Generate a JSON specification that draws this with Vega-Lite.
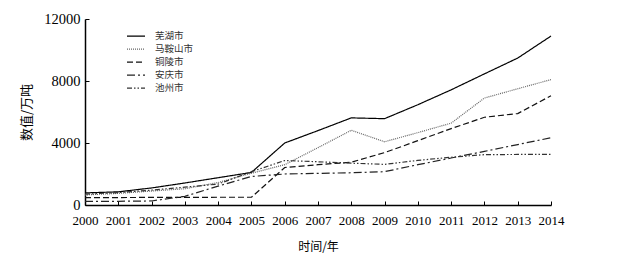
{
  "$schema": "https://vega.github.io/schema/vega-lite/v6.json",
  "width": 466,
  "height": 186,
  "autosize": {"type": "none"},
  "padding": {"left": 85, "top": 19, "right": 74, "bottom": 66},
  "background": "white",
  "config": {
    "view": {"stroke": null},
    "axis": {"grid": false, "domainColor": "#000", "tickColor": "#000", "labelColor": "#000", "titleColor": "#000", "labelFont": "Liberation Serif", "titleFont": "Noto Sans CJK SC", "titleFontWeight": "normal"},
    "legend": {"orient": "none", "legendX": 41, "legendY": 11, "title": null, "symbolType": "stroke", "symbolSize": 324, "symbolStrokeWidth": 1.2, "labelFont": "Noto Sans CJK SC", "labelFontSize": 9.5, "labelColor": "#333", "labelOffset": 9, "clipHeight": 12.2, "rowPadding": 0, "padding": 0}
  },
  "data": {
    "values": [
      {"city": "芜湖市", "year": 2000, "value": 780},
      {"city": "芜湖市", "year": 2001, "value": 850},
      {"city": "芜湖市", "year": 2002, "value": 1100},
      {"city": "芜湖市", "year": 2003, "value": 1420},
      {"city": "芜湖市", "year": 2004, "value": 1760},
      {"city": "芜湖市", "year": 2005, "value": 2100},
      {"city": "芜湖市", "year": 2006, "value": 4000},
      {"city": "芜湖市", "year": 2007, "value": 4800},
      {"city": "芜湖市", "year": 2008, "value": 5620},
      {"city": "芜湖市", "year": 2009, "value": 5570},
      {"city": "芜湖市", "year": 2010, "value": 6470},
      {"city": "芜湖市", "year": 2011, "value": 7430},
      {"city": "芜湖市", "year": 2012, "value": 8460},
      {"city": "芜湖市", "year": 2013, "value": 9480},
      {"city": "芜湖市", "year": 2014, "value": 10900},
      {"city": "马鞍山市", "year": 2000, "value": 650},
      {"city": "马鞍山市", "year": 2001, "value": 750},
      {"city": "马鞍山市", "year": 2002, "value": 900},
      {"city": "马鞍山市", "year": 2003, "value": 1050},
      {"city": "马鞍山市", "year": 2004, "value": 1450},
      {"city": "马鞍山市", "year": 2005, "value": 2050},
      {"city": "马鞍山市", "year": 2006, "value": 2600},
      {"city": "马鞍山市", "year": 2007, "value": 3700},
      {"city": "马鞍山市", "year": 2008, "value": 4820},
      {"city": "马鞍山市", "year": 2009, "value": 4080},
      {"city": "马鞍山市", "year": 2010, "value": 4670},
      {"city": "马鞍山市", "year": 2011, "value": 5280},
      {"city": "马鞍山市", "year": 2012, "value": 6900},
      {"city": "马鞍山市", "year": 2013, "value": 7500},
      {"city": "马鞍山市", "year": 2014, "value": 8090},
      {"city": "铜陵市", "year": 2000, "value": 480},
      {"city": "铜陵市", "year": 2001, "value": 480},
      {"city": "铜陵市", "year": 2002, "value": 490},
      {"city": "铜陵市", "year": 2003, "value": 490},
      {"city": "铜陵市", "year": 2004, "value": 500},
      {"city": "铜陵市", "year": 2005, "value": 500},
      {"city": "铜陵市", "year": 2006, "value": 2420},
      {"city": "铜陵市", "year": 2007, "value": 2600},
      {"city": "铜陵市", "year": 2008, "value": 2760},
      {"city": "铜陵市", "year": 2009, "value": 3380},
      {"city": "铜陵市", "year": 2010, "value": 4150},
      {"city": "铜陵市", "year": 2011, "value": 4930},
      {"city": "铜陵市", "year": 2012, "value": 5660},
      {"city": "铜陵市", "year": 2013, "value": 5900},
      {"city": "铜陵市", "year": 2014, "value": 7050},
      {"city": "安庆市", "year": 2000, "value": 240},
      {"city": "安庆市", "year": 2001, "value": 240},
      {"city": "安庆市", "year": 2002, "value": 260},
      {"city": "安庆市", "year": 2003, "value": 560},
      {"city": "安庆市", "year": 2004, "value": 1220},
      {"city": "安庆市", "year": 2005, "value": 1840},
      {"city": "安庆市", "year": 2006, "value": 2000},
      {"city": "安庆市", "year": 2007, "value": 2040},
      {"city": "安庆市", "year": 2008, "value": 2080},
      {"city": "安庆市", "year": 2009, "value": 2150},
      {"city": "安庆市", "year": 2010, "value": 2600},
      {"city": "安庆市", "year": 2011, "value": 3030},
      {"city": "安庆市", "year": 2012, "value": 3460},
      {"city": "安庆市", "year": 2013, "value": 3900},
      {"city": "安庆市", "year": 2014, "value": 4340},
      {"city": "池州市", "year": 2000, "value": 700},
      {"city": "池州市", "year": 2001, "value": 800},
      {"city": "池州市", "year": 2002, "value": 960},
      {"city": "池州市", "year": 2003, "value": 1150},
      {"city": "池州市", "year": 2004, "value": 1350},
      {"city": "池州市", "year": 2005, "value": 2150},
      {"city": "池州市", "year": 2006, "value": 2870},
      {"city": "池州市", "year": 2007, "value": 2790},
      {"city": "池州市", "year": 2008, "value": 2700},
      {"city": "池州市", "year": 2009, "value": 2620},
      {"city": "池州市", "year": 2010, "value": 2880},
      {"city": "池州市", "year": 2011, "value": 3080},
      {"city": "池州市", "year": 2012, "value": 3250},
      {"city": "池州市", "year": 2013, "value": 3260},
      {"city": "池州市", "year": 2014, "value": 3260}
    ]
  },
  "mark": {"type": "line", "strokeWidth": 1.2},
  "encoding": {
    "x": {
      "field": "year", "type": "quantitative",
      "scale": {"domain": [2000, 2014], "nice": false, "zero": false},
      "axis": {"values": [2000,2001,2002,2003,2004,2005,2006,2007,2008,2009,2010,2011,2012,2013,2014], "format": "d", "title": "时间/年", "titleFontSize": 12, "titlePadding": 14, "labelFontSize": 13, "tickSize": -4, "labelPadding": 13, "domainWidth": 1.5, "tickWidth": 1, "labelFlush": false}
    },
    "y": {
      "field": "value", "type": "quantitative",
      "scale": {"domain": [0, 12000], "nice": false},
      "axis": {"values": [0, 4000, 8000, 12000], "format": "d", "title": "数值/万吨", "titleFontSize": 13, "titlePadding": 10, "labelFontSize": 14.5, "tickSize": -4, "labelPadding": 9, "domainWidth": 1.5, "tickWidth": 1, "labelFlush": false}
    },
    "color": {
      "field": "city", "type": "nominal",
      "scale": {"domain": ["芜湖市", "马鞍山市", "铜陵市", "安庆市", "池州市"], "range": ["#000000", "#666666", "#111111", "#222222", "#333333"]}
    },
    "strokeDash": {
      "field": "city", "type": "nominal",
      "scale": {"domain": ["芜湖市", "马鞍山市", "铜陵市", "安庆市", "池州市"], "range": [[1, 0], [1, 1], [6, 3], [8, 3, 2, 3], [5, 2, 1.5, 2, 1.5, 2]]}
    }
  }
}
